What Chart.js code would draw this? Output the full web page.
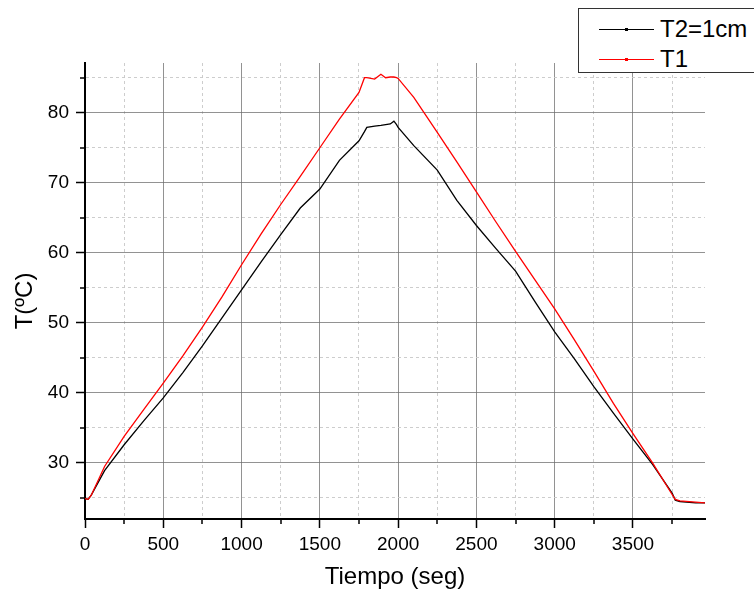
<!DOCTYPE html>
<html>
<head>
<meta charset="utf-8">
<script src="https://cdn.jsdelivr.net/npm/chart.js@4/dist/chart.umd.min.js"></script>
<style>
  html, body { margin: 0; padding: 0; background: #fff; overflow: hidden; }
  #wrap { position: relative; width: 754px; height: 597px; overflow: hidden; }
  #legend {
    position: absolute; left: 578px; top: 8px; width: 200px; height: 63px;
    border: 1px solid #333; background: #fff;
    font-family: "Liberation Sans", Arial, sans-serif; font-size: 24px; color: #000;
  }
  .item { position: absolute; left: 0; height: 30px; }
  .swatch { position: absolute; left: 20px; width: 55px; height: 1px; top: 14px; }
  .dot { position: absolute; left: 26px; top: -1px; width: 3px; height: 3px; }
  .lbl { position: absolute; left: 81px; top: 0px; line-height: 28px; white-space: nowrap; }
</style>
</head>
<body>
<div id="wrap">
  <canvas id="chart" width="754" height="597"></canvas>
  <div id="legend"></div>
</div>
<script>
// time in seconds
const time = [0, 20, 40, 125, 250, 375, 500, 625, 750, 875, 1000, 1125, 1250, 1375, 1500, 1625, 1750, 1785, 1800, 1850, 1890, 1920, 1950, 1973, 1990, 2000, 2100, 2250, 2375, 2500, 2625, 2750, 2875, 3000, 3125, 3250, 3375, 3500, 3625, 3750, 3770, 3800, 3900, 3960]

// T2=1cm (black)
const t2Temp = [24.9, 24.8, 25.4, 28.9, 32.6, 36.0, 39.3, 42.9, 46.7, 50.7, 54.7, 58.7, 62.6, 66.4, 69.1, 73.2, 76.0, 77.3, 77.9, 78.1, 78.2, 78.3, 78.4, 78.8, 78.3, 77.9, 75.3, 71.8, 67.5, 63.9, 60.6, 57.4, 53.0, 48.7, 44.9, 40.9, 37.1, 33.4, 29.8, 25.7, 24.7, 24.5, 24.3, 24.3]

// T1 (red)
const t1Temp = [24.9, 24.8, 25.4, 29.5, 33.8, 37.6, 41.4, 45.3, 49.4, 53.7, 58.3, 62.7, 66.9, 70.9, 75.0, 79.1, 82.9, 85.0, 85.0, 84.8, 85.5, 85.0, 85.1, 85.1, 85.0, 84.9, 82.2, 77.2, 73.0, 68.7, 64.4, 60.2, 56.1, 52.0, 47.6, 43.1, 38.5, 34.2, 30.0, 25.5, 24.8, 24.6, 24.4, 24.3]

const xTicks = [0, 250, 500, 750, 1000, 1250, 1500, 1750, 2000, 2250, 2500, 2750, 3000, 3250, 3500, 3750]
const yTicks = [25, 30, 35, 40, 45, 50, 55, 60, 65, 70, 75, 80, 85]

const font = '"Liberation Sans", Arial, sans-serif'
Chart.defaults.font.family = font
Chart.defaults.color = '#000'

function isMajorX(v) { return v % 500 === 0 }
function isMajorY(v) { return v % 10 === 0 }

// short minor tick marks (major ones come from the scales)
const minorTicks = {
  id: 'minorTicks',
  afterDraw(chart) {
    const ctx = chart.ctx
    const x = chart.scales.x, y = chart.scales.y
    ctx.save()
    ctx.strokeStyle = '#000'
    ctx.lineWidth = 1.5
    ctx.beginPath()
    xTicks.filter(v => !isMajorX(v)).forEach(v => {
      const px = Math.round(x.getPixelForValue(v))
      ctx.moveTo(px, x.top)
      ctx.lineTo(px, x.top + 5)
    })
    yTicks.filter(v => !isMajorY(v)).forEach(v => {
      const py = Math.round(y.getPixelForValue(v))
      ctx.moveTo(y.right, py)
      ctx.lineTo(y.right - 5, py)
    })
    ctx.stroke()
    ctx.restore()
  }
}

const chart = new Chart(document.getElementById('chart'), {
  type: 'line',
  data: {
    datasets: [
      {
        label: 'T2=1cm',
        data: time.map((t, i) => ({x: t, y: t2Temp[i]})),
        borderColor: '#000000',
        borderWidth: 1.3,
        pointRadius: 0,
        tension: 0,
        order: 1
      },
      {
        label: 'T1',
        data: time.map((t, i) => ({x: t, y: t1Temp[i]})),
        borderColor: '#ff0000',
        borderWidth: 1.3,
        pointRadius: 0,
        tension: 0,
        order: 0
      }
    ]
  },
  options: {
    responsive: false,
    animation: false,
    layout: {padding: {top: 63, right: 49, left: 0, bottom: 0}},
    plugins: {legend: {display: false}, tooltip: {enabled: false}},
    scales: {
      x: {
        type: 'linear',
        min: 0,
        max: 3960,
        afterBuildTicks: s => { s.ticks = xTicks.map(v => ({value: v})) },
        afterFit: s => { s.height = 78 },
        ticks: {
          autoSkip: false, maxRotation: 0, padding: 5,
          font: {size: 19},
          callback: v => isMajorX(v) ? String(v) : ''
        },
        grid: {
          color: c => c.tick && isMajorX(c.tick.value) ? 'rgba(110,110,110,0.75)' : 'rgba(200,200,200,0.9)',
          tickColor: c => c.tick && isMajorX(c.tick.value) ? '#000' : 'rgba(0,0,0,0)',
          tickLength: 9,
          tickWidth: 1.5
        },
        border: {
          color: '#000', width: 2,
          dash: c => c.tick && !isMajorX(c.tick.value) ? [3, 3] : []
        },
        title: {
          display: true, text: 'Tiempo (seg)',
          font: {size: 24}, padding: {top: 0, bottom: 5}
        }
      },
      y: {
        min: 22,
        max: 87.1,
        afterBuildTicks: s => { s.ticks = yTicks.map(v => ({value: v})) },
        afterFit: s => { s.width = 85 },
        ticks: {
          autoSkip: false, padding: 7,
          font: {size: 19},
          callback: v => isMajorY(v) ? String(v) : ''
        },
        grid: {
          color: c => c.tick && isMajorY(c.tick.value) ? 'rgba(110,110,110,0.75)' : 'rgba(200,200,200,0.9)',
          tickColor: c => c.tick && isMajorY(c.tick.value) ? '#000' : 'rgba(0,0,0,0)',
          tickLength: 9,
          tickWidth: 1.5
        },
        border: {
          color: '#000', width: 2,
          dash: c => c.tick && !isMajorY(c.tick.value) ? [3, 3] : []
        },
        title: {
          display: true, text: 'T(ºC)   ',
          font: {size: 24}, padding: {top: 11, bottom: 0}
        }
      }
    }
  },
  plugins: [minorTicks]
})

// legend box, built from the datasets
const legend = document.getElementById('legend')
chart.data.datasets.forEach((ds, i) => {
  const item = document.createElement('div')
  item.className = 'item'
  item.style.top = (6 + i * 30) + 'px'
  item.innerHTML = '<div class="swatch" style="background:' + ds.borderColor + '"><div class="dot" style="background:' + ds.borderColor + '"></div></div>' +
    '<div class="lbl">' + ds.label + '</div>'
  legend.appendChild(item)
})
</script>
</body>
</html>
